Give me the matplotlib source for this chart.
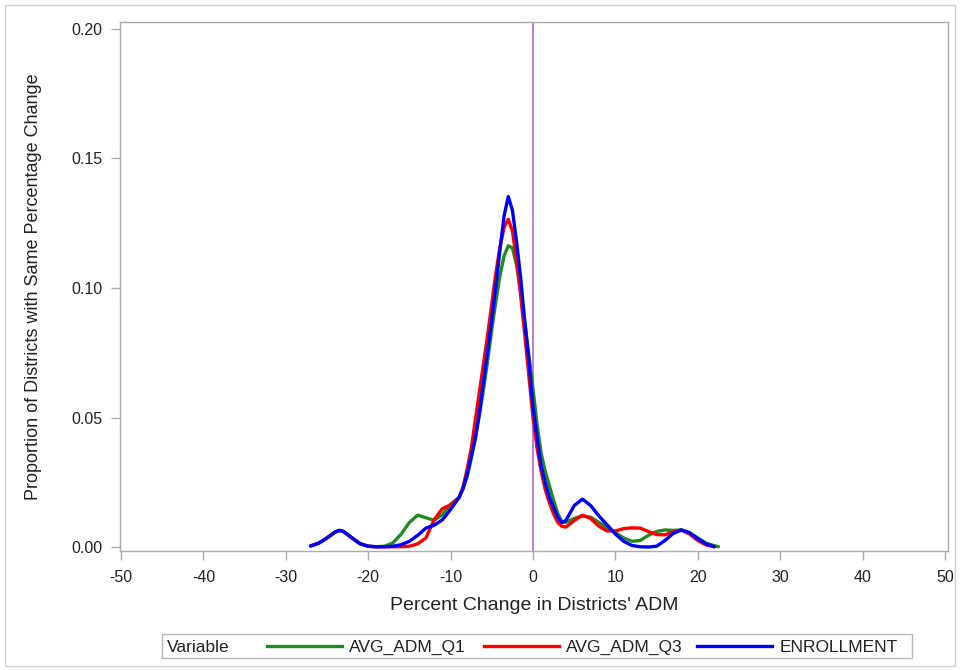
import matplotlib
matplotlib.use('Agg')
import matplotlib.pyplot as plt
from matplotlib.lines import Line2D
from matplotlib.patches import Rectangle
import numpy as np

plt.rcParams['font.family'] = ['Liberation Sans', 'DejaVu Sans']

# ---------------- data ----------------
x_pct = [-27, -26, -25, -24, -23.5, -23, -22, -21, -20, -19, -18, -17, -16, -15,
         -14, -13, -12, -11, -10, -9, -8.5, -8, -7.5, -7, -6.5, -6, -5.5, -5,
         -4.5, -4, -3.5, -3, -2.5, -2, -1.5, -1, -0.5, 0, 0.5, 1, 1.5, 2, 2.5,
         3, 3.5, 4, 5, 6, 7, 8, 9, 10, 11, 12, 13, 14, 15, 16, 17, 18, 19, 20,
         21, 22, 22.5]

avg_adm_q1 = [.0004, .0015, .0035, .0058, .0064, .0060, .0036, .0013, .0003, .0001,
              .0003, .0016, .0050, .0095, .0123, .0113, .0103, .0125, .0165, .0190,
              .0225, .0270, .0340, .0420, .0510, .0610, .0720, .0840, .0950, .1050,
              .1125, .1163, .1155, .1090, .0990, .0870, .0740, .0610, .0470, .0360,
              .0290, .0235, .0180, .0130, .0097, .0095, .0110, .0120, .0115, .0095,
              .0075, .0055, .0035, .0022, .0025, .0045, .0060, .0066, .0064, .0066,
              .0055, .0035, .0015, .0005, .0001]

avg_adm_q3 = [.0004, .0015, .0035, .0058, .0064, .0060, .0036, .0013, .0003, .0001,
              .0001, .0001, .0001, .0003, .0012, .0035, .0105, .0148, .0163, .0190,
              .0230, .0300, .0380, .0490, .0600, .0710, .0820, .0940, .1060, .1160,
              .1235, .1265, .1220, .1110, .0970, .0820, .0660, .0500, .0380, .0290,
              .0220, .0170, .0128, .0095, .0080, .0077, .0102, .0123, .0110, .0080,
              .0062, .0062, .0071, .0074, .0073, .0060, .0048, .0047, .0058, .0065,
              .0050, .0025, .0008, .0001, np.nan]

enrollment = [.0004, .0015, .0035, .0058, .0064, .0060, .0036, .0013, .0003, .0001,
              .0001, .0003, .0009, .0022, .0045, .0073, .0084, .0105, .0145, .0190,
              .0225, .0280, .0350, .0420, .0520, .0640, .0760, .0880, .1010, .1150,
              .1280, .1353, .1300, .1180, .1040, .0870, .0720, .0540, .0420, .0310,
              .0246, .0190, .0153, .0115, .0094, .0103, .0160, .0185, .0160, .0120,
              .0085, .0050, .0022, .0006, .0001, .0000, .0003, .0025, .0052, .0066,
              .0055, .0032, .0012, .0001, np.nan]

series_names = ['AVG_ADM_Q1', 'AVG_ADM_Q3', 'ENROLLMENT']
series_colors = ['#1E8C1E', '#FF0000', '#0000FF']

x_ticks = [-50, -40, -30, -20, -10, 0, 10, 20, 30, 40, 50]
x_tick_labels = ['-50', '-40', '-30', '-20', '-10', '0', '10', '20', '30', '40', '50']
y_ticks = [0.00, 0.05, 0.10, 0.15, 0.20]
y_tick_labels = ['0.00', '0.05', '0.10', '0.15', '0.20']

# ---------------- figure ----------------
W, H = 961, 670
fig = plt.figure(figsize=(W / 100, H / 100), dpi=100)


def fx(px):
    return px / W


def fy(py):
    return 1 - py / H


ax = fig.add_axes([fx(119.5), fy(551), fx(948) - fx(119.5), fy(22) - fy(551)])

ax.axvline(0, color='#AE5ACD', lw=1.1, zorder=1)
for vals, col in zip([avg_adm_q1, avg_adm_q3, enrollment], series_colors):
    ax.plot(x_pct, vals, color=col, lw=2.4, solid_joinstyle='round',
            solid_capstyle='round', zorder=2)

ax.set_xlim(-50.18, 50.36)
ax.set_ylim(-0.00154, 0.2027)
ax.set_xticks(x_ticks)
ax.set_xticklabels(x_tick_labels)
ax.set_yticks(y_ticks)
ax.set_yticklabels(y_tick_labels)

frame_col = '#A8ACB0'
for sp in ax.spines.values():
    sp.set_color(frame_col)
    sp.set_linewidth(1.0)
ax.tick_params(direction='out', length=6.5, width=1.0, color=frame_col,
               labelsize=11.5, labelcolor='#222222')
ax.tick_params(axis='x', pad=7)
ax.tick_params(axis='y', pad=5.5)

ax.set_xlabel("Percent Change in Districts' ADM", fontsize=14, color='#222222')
ax.xaxis.set_label_coords(0.5003, (551 - 597) / 529)
ax.xaxis.label.set_va('top')
ax.set_ylabel('Proportion of Districts with Same Percentage Change', fontsize=13,
              color='#222222')
ax.yaxis.set_label_coords((42 - 119.5) / 828.5, (551 - 287) / 529)

# outer border
fig.patches.append(Rectangle((fx(5), fy(666)), fx(955) - fx(5), fy(5) - fy(666),
                             transform=fig.transFigure, fill=False,
                             ec='#D0D0D0', lw=1.0))

# legend (drawn in figure pixel positions)
ly = 646
fig.patches.append(Rectangle((fx(161.7), fy(658.3)), fx(911.7) - fx(161.7),
                             fy(634) - fy(658.3), transform=fig.transFigure,
                             fill=False, ec='#B8B8B8', lw=1.0))
fig.text(fx(167), fy(652), 'Variable', fontsize=12.5, color='#222222',
         ha='left', va='baseline')
line_starts = [267, 484, 697]
label_starts = [349, 566, 780]
for name, col, ls, lx in zip(series_names, series_colors, line_starts, label_starts):
    fig.lines.append(Line2D([fx(ls), fx(ls + 75)], [fy(ly), fy(ly)],
                            transform=fig.transFigure, color=col, lw=2.4))
    fig.text(fx(lx), fy(652), name, fontsize=12.5, color='#222222',
             ha='left', va='baseline')

fig.savefig('out.png', dpi=100)
